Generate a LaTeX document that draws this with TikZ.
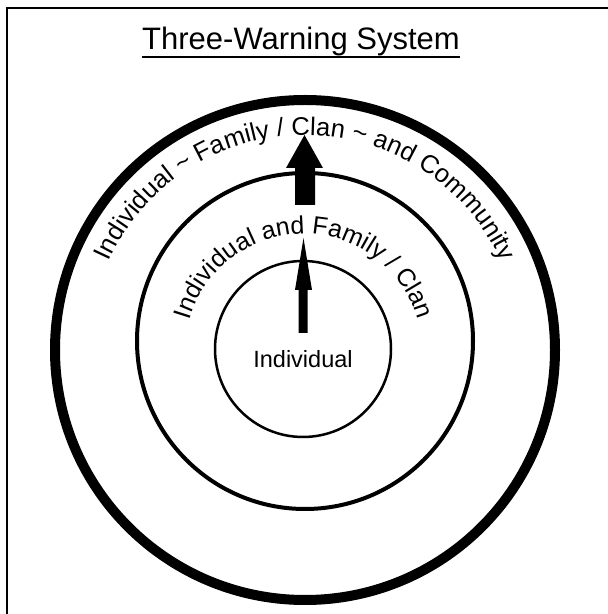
\documentclass[tikz,border=0pt]{standalone}
\usepackage{fontspec}
\setmainfont{Liberation Sans}
\usetikzlibrary{decorations.text}
\begin{document}
\begin{tikzpicture}[x=1pt,y=1pt,
  framestyle/.style={line width=1.5pt},
  arrowfill/.style={fill=black}]
\useasboundingbox (0,0) rectangle (608,614);
\fill[white] (0,0) rectangle (608,614);
% frame (left and top edges)
\draw[framestyle] (7,0) -- (7,606) -- (608,606);
% title
\node[inner sep=0, anchor=base, font=\fontsize{31}{36}\selectfont] (title) at (301,564) {Three-Warning System};
\draw[line width=2pt] ([yshift=-7pt]title.base west) -- ([yshift=-7pt]title.base east);
% circles
\coordinate (oc) at (305,264);
\coordinate (mc) at (305,273);
\coordinate (ic) at (303,265);
\draw[line width=10pt] (oc) circle[radius=250];
\draw[line width=4pt] (mc) circle[radius=168];
\draw[line width=2.5pt] (ic) circle[radius=88];
% inner label
\node[inner sep=0, anchor=base, font=\fontsize{23.5}{27}\selectfont] (ind) at (303,246) {Individual};
% curved labels
\coordinate (tc1) at (304,261);
\path[decorate, decoration={text along path, text align=center,
  text={|\fontsize{25}{29}\selectfont|Individual and Family / Clan}}]
  (tc1) ++(180:119) arc[start angle=180, end angle=0, radius=119];
\coordinate (tc2) at (305,264);
\path[decorate, decoration={text along path, text align=center,
  text={|\fontsize{25.5}{29}\selectfont|Individual {\textasciitilde} Family / Clan {\textasciitilde} and Community}}]
  (tc2) ++(180:215) arc[start angle=180, end angle=0, radius=215];
% small arrow
\coordinate (sa1) at (298.5,281);
\coordinate (sa2) at (307.5,281);
\coordinate (sa3) at (307.5,324);
\coordinate (sa4) at (312,324);
\coordinate (satip) at (303.5,376);
\coordinate (sa5) at (295,324);
\coordinate (sa6) at (298.5,324);
\fill[arrowfill] (sa1) -- (sa2) -- (sa3) -- (sa4) -- (satip) -- (sa5) -- (sa6) -- cycle;
% big arrow
\coordinate (ba1) at (295,409);
\coordinate (ba2) at (315,409);
\coordinate (ba3) at (315,446);
\coordinate (ba4) at (323,446);
\coordinate (batip) at (304.5,479);
\coordinate (ba5) at (286,446);
\coordinate (ba6) at (295,446);
\fill[arrowfill] (ba1) -- (ba2) -- (ba3) -- (ba4) -- (batip) -- (ba5) -- (ba6) -- cycle;
\end{tikzpicture}
\end{document}
